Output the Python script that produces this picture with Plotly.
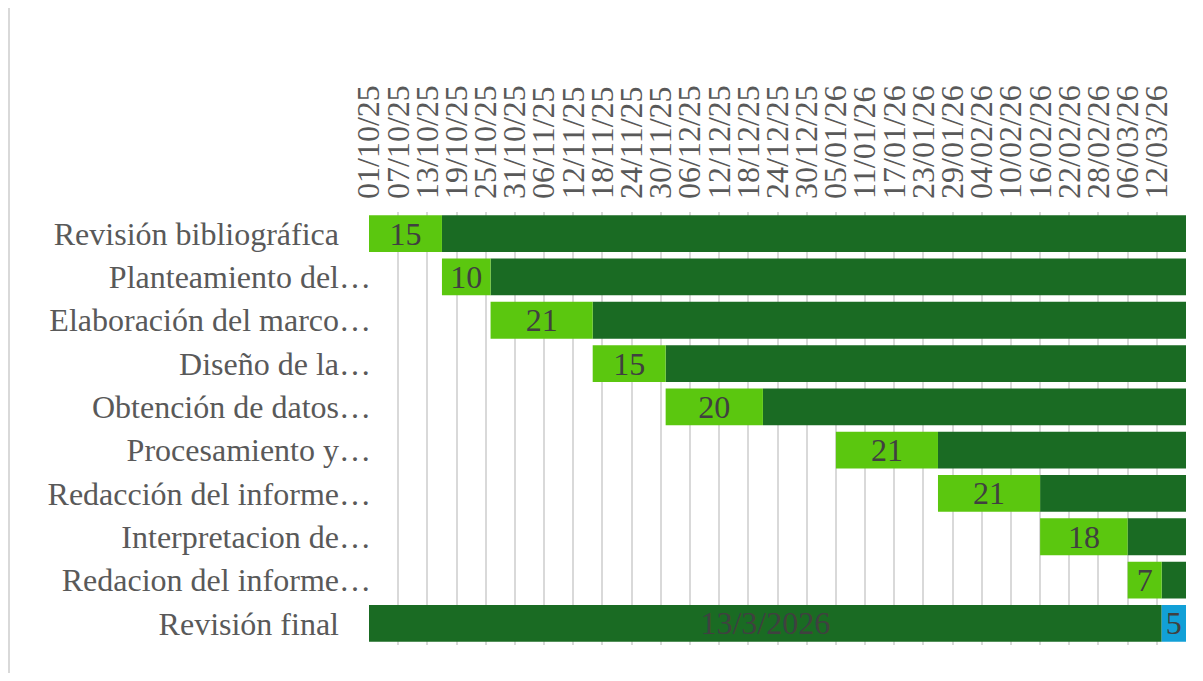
import pandas as pd
import plotly.graph_objects as go

# datos del cronograma
tareas = [
    "Revisión bibliográfica",
    "Planteamiento del…",
    "Elaboración del marco…",
    "Diseño de la…",
    "Obtención de datos…",
    "Procesamiento y…",
    "Redacción del informe…",
    "Interpretacion de…",
    "Redacion del informe…",
    "Revisión final",
]
inicio = [
    "2025-10-01", "2025-10-16", "2025-10-26", "2025-11-16", "2025-12-01",
    "2026-01-05", "2026-01-26", "2026-02-16", "2026-03-06", "2026-03-13",
]
duracion = [15, 10, 21, 15, 20, 21, 21, 18, 7, 5]
eje_inicio = "2025-10-01"
eje_fin = "2026-03-18"
ultima_marca = "2026-03-12"
etiqueta_final = "13/3/2026"

DIA = 86400000
GRIS = "#595959"
FUENTE = "Times New Roman, Liberation Serif, serif"

ini = pd.to_datetime(inicio)
fin = ini + pd.to_timedelta(duracion, unit="D")
marcas = pd.date_range(eje_inicio, ultima_marca, freq="6D")

# etiquetas del eje y: Excel deja hueco a la derecha de las que no se recortan
etiquetas = [t if t.endswith("…") else t + "\u00a0" * 4 for t in tareas]

fig = go.Figure()

# tramo restante (verde oscuro) filas 1-9, hasta el final del eje
fig.add_trace(
    go.Bar(
        y=etiquetas[:-1],
        base=[d.strftime("%Y-%m-%d") for d in fin[:-1]],
        x=[(pd.Timestamp(eje_fin) - d).days * DIA for d in fin[:-1]],
        orientation="h",
        marker=dict(color="#1a6b23", line_width=0),
        hoverinfo="skip",
    )
)

# serie de inicio visible solo en "Revisión final"
fig.add_trace(
    go.Bar(
        y=[etiquetas[-1]],
        base=[eje_inicio],
        x=[(ini[-1] - pd.Timestamp(eje_inicio)).days * DIA],
        orientation="h",
        marker=dict(color="#1a6b23", line_width=0),
        text=[etiqueta_final],
        textposition="inside",
        insidetextanchor="middle",
        constraintext="none",
        textangle=0,
        textfont=dict(family=FUENTE, size=32, color="#404040"),
        hoverinfo="skip",
    )
)

# duración
colores = ["#5bc70f"] * (len(tareas) - 1) + ["#12a0d7"]
fig.add_trace(
    go.Bar(
        y=etiquetas,
        base=inicio,
        x=[d * DIA for d in duracion],
        orientation="h",
        marker=dict(color=colores, line_width=0),
        text=[str(d) for d in duracion],
        textposition="inside",
        insidetextanchor="middle",
        constraintext="none",
        textangle=0,
        textfont=dict(family=FUENTE, size=32, color="#404040"),
    )
)

# la página tiene 8 px de margen en el body; figura más pequeña para que no haya barras de desplazamiento
ANCHO_FIG, ALTO_FIG = 1190, 665
M_IZQ, M_DER, M_SUP, M_INF = 361, 12, 204, 28
fig.update_layout(
    width=ANCHO_FIG,
    height=ALTO_FIG,
    barmode="overlay",
    bargap=0.15,
    showlegend=False,
    plot_bgcolor="white",
    paper_bgcolor="white",
    margin=dict(l=M_IZQ, r=M_DER, t=M_SUP, b=M_INF),
    font=dict(family=FUENTE, size=32, color=GRIS),
)
fig.update_xaxes(
    type="date",
    side="top",
    range=[eje_inicio, eje_fin],
    tickmode="array",
    tickvals=list(marcas),
    ticktext=[m.strftime("%d/%m/%y") for m in marcas],
    tickangle=-90,
    tickfont=dict(family=FUENTE, size=32, color=GRIS),
    showgrid=True,
    gridcolor="#d9d9d9",
    gridwidth=2,
    zeroline=False,
    showline=False,
    ticks="",
    ticklabelstandoff=12,
)
fig.update_yaxes(
    type="category",
    categoryorder="array",
    categoryarray=etiquetas,
    autorange="reversed",
    tickfont=dict(family=FUENTE, size=32, color=GRIS),
    showgrid=False,
    showline=False,
    ticks="",
    ticklabelstandoff=-3,
)

# borde del área del gráfico (dentro del lienzo)
ancho = ANCHO_FIG - M_IZQ - M_DER
alto = ALTO_FIG - M_SUP - M_INF
for px_borde in [1, ANCHO_FIG - 1]:
    xp = (px_borde - M_IZQ) / ancho
    fig.add_shape(
        type="line", xref="paper", yref="paper",
        x0=xp, x1=xp, y0=-M_INF / alto, y1=1 + M_SUP / alto,
        line=dict(color="#d9d9d9", width=2),
    )

fig.write_html("out.html")
